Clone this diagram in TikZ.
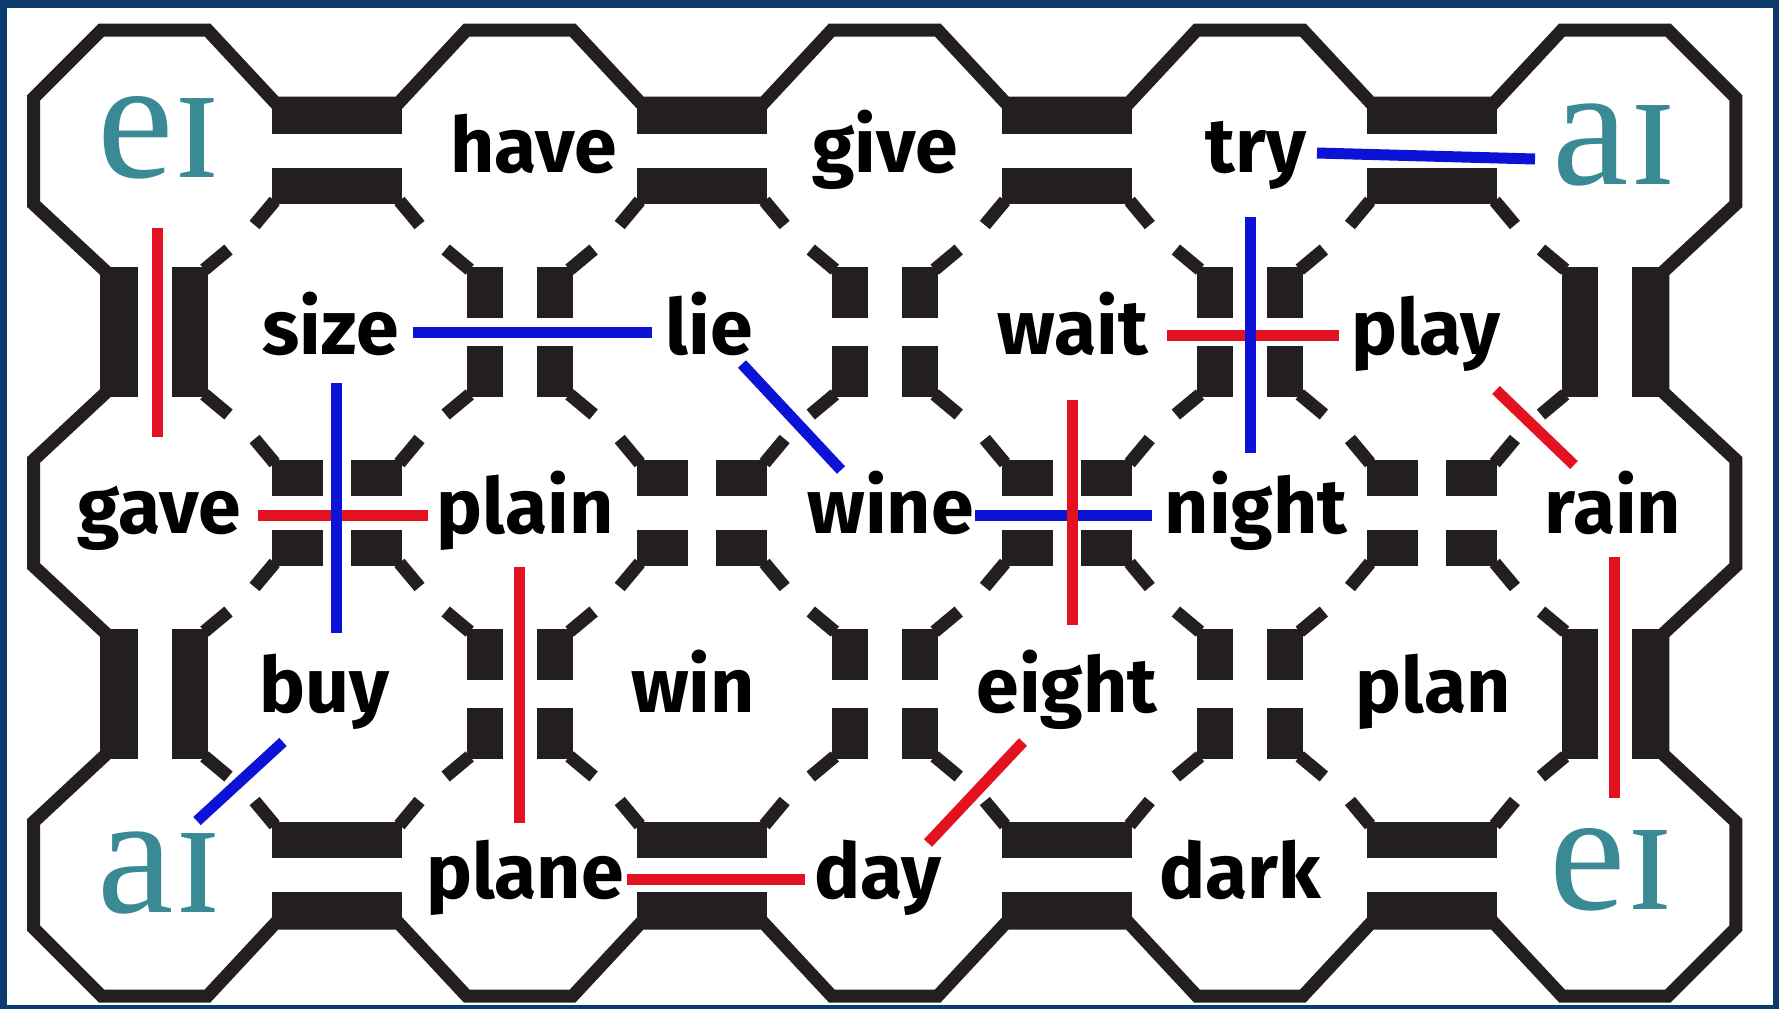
\documentclass[tikz,border=0pt]{standalone}
\usepackage{fontspec}
\newfontfamily\wordfont{Fira Sans}
\newfontfamily\ipafont{Liberation Serif}
\definecolor{mz}{RGB}{35,31,32}
\definecolor{frameblue}{RGB}{12,60,110}
\definecolor{lred}{RGB}{226,18,32}
\definecolor{lblue}{RGB}{12,18,214}
\definecolor{ipateal}{RGB}{58,138,150}
\def\mzG{17}\def\mzS{53}\def\mzL{65}\def\mzGC{14}
\def\stA{17.5}\def\stB{21}
\begin{document}
\begin{tikzpicture}[x=0.5pt,y=-0.5pt,
  wall/.style={draw=mz,line width=6.5pt,line join=miter,line cap=butt},
  stubl/.style={draw=mz,line width=6.5pt,line cap=butt},
  word/.style={font=\wordfont\bfseries\fontsize{38.5}{42}\selectfont,inner sep=0pt,anchor=base,text=black},
  ipa/.style={font=\ipafont\fontsize{86}{88}\selectfont,inner sep=0pt,anchor=base,text=ipateal},
  redl/.style={draw=lred,line width=5.5pt,line cap=butt},
  bluel/.style={draw=lblue,line width=5.5pt,line cap=butt}]
% background and frame
\fill[frameblue] (0,0) rectangle (1779,1009);
\fill[white] (7,8) rectangle (1773,1005);
% outer wall
\draw[wall] (106.5,272) -- (33.5,204) -- (33.5,98) -- (101.5,30) -- (207.5,30) -- (275.5,103)
  -- (398.62,103) -- (466.62,30) -- (572.62,30) -- (640.62,103)
  -- (763.74,103) -- (831.74,30) -- (937.74,30) -- (1005.74,103)
  -- (1128.86,103) -- (1196.86,30) -- (1302.86,30) -- (1370.86,103)
  -- (1493.98,103) -- (1561.98,30) -- (1667.98,30) -- (1735.98,98)
  -- (1735.98,204) -- (1662.98,272) -- (1662.98,392) -- (1735.98,460)
  -- (1735.98,566) -- (1662.98,634) -- (1662.98,754) -- (1735.98,822)
  -- (1735.98,928) -- (1667.98,996) -- (1561.98,996) -- (1493.98,923)
  -- (1370.86,923) -- (1302.86,996) -- (1196.86,996) -- (1128.86,923)
  -- (1005.74,923) -- (937.74,996) -- (831.74,996) -- (763.74,923)
  -- (640.62,923) -- (572.62,996) -- (466.62,996) -- (398.62,923)
  -- (275.5,923) -- (207.5,996) -- (101.5,996) -- (33.5,928)
  -- (33.5,822) -- (106.5,754) -- (106.5,634) -- (33.5,566)
  -- (33.5,460) -- (106.5,392) -- cycle;
% top and bottom doors
\foreach \x in {337.06,702.18,1067.3,1432.42}{
  \foreach \yc/\sy in {151/1,875/-1}{
    \begin{scope}[shift={(\x,\yc)},yscale=\sy]
      \fill[mz] (-\mzL,-\mzS) rectangle (\mzL,-\mzG);
      \fill[mz] (-\mzL,\mzG) rectangle (\mzL,\mzS);
      \foreach \sx in {-1,1}{
        \begin{scope}[xscale=\sx]
          \draw[stubl] ({\mzL-2.6},{\mzS-3.1}) -- ({\mzL+\stA},{\mzS+\stB});
        \end{scope}}
    \end{scope}}}
% left and right doors
\foreach \y in {332,694}{
  \foreach \xc/\sx in {154.5/1,1614.98/-1}{
    \begin{scope}[shift={(\xc,\y)},xscale=\sx]
      \fill[mz] (-\mzS,-\mzL) rectangle (-\mzG,\mzL);
      \fill[mz] (\mzG,-\mzL) rectangle (\mzS,\mzL);
      \foreach \sy in {-1,1}{
        \begin{scope}[yscale=\sy]
          \draw[stubl] ({\mzS-3.1},{\mzL-2.6}) -- ({\mzS+\stB},{\mzL+\stA});
        \end{scope}}
    \end{scope}}}
% horizontal crossings
\foreach \x in {337.06,702.18,1067.3,1432.42}{
  \foreach \sx in {-1,1}{\foreach \sy in {-1,1}{
    \begin{scope}[shift={(\x,513)},xscale=\sx,yscale=\sy]
      \fill[mz] (\mzGC,\mzG) rectangle (\mzL,\mzS);
      \draw[stubl] ({\mzL-2.6},{\mzS-3.1}) -- ({\mzL+\stA},{\mzS+\stB});
    \end{scope}}}}
% vertical crossings
\foreach \x in {519.62,884.74,1249.86}{
  \foreach \y in {332,694}{
  \foreach \sx in {-1,1}{\foreach \sy in {-1,1}{
    \begin{scope}[shift={(\x,\y)},xscale=\sx,yscale=\sy]
      \fill[mz] (\mzG,\mzGC) rectangle (\mzS,\mzL);
      \draw[stubl] ({\mzS-3.1},{\mzL-2.6}) -- ({\mzS+\stB},{\mzL+\stA});
    \end{scope}}}}}
% words
\node[ipa] (eiTL) at (159.5,177) {eɪ};
\node[word] (have) at (533.5,172.5) {have};
\node[word] (give) at (885,172.5) {give};
\node[word] (try) at (1256,172.5) {try};
\node[ipa] (aiTR) at (1615,184) {aɪ};
\node[word] (size) at (330.5,354) {size};
\node[word] (lie) at (709,354) {lie};
\node[word] (wait) at (1073,354) {wait};
\node[word] (play) at (1426,354) {play};
\node[word] (gave) at (159,533) {gave};
\node[word] (plain) at (525,533) {plain};
\node[word] (wine) at (890.5,533) {wine};
\node[word] (night) at (1256,533) {night};
\node[word] (rain) at (1613,533) {rain};
\node[word] (buy) at (324,712.5) {buy};
\node[word] (win) at (693,712.5) {win};
\node[word] (eight) at (1067,712.5) {eight};
\node[word] (plan) at (1433,712.5) {plan};
\node[ipa] (aiBL) at (160,912) {aɪ};
\node[word] (plane) at (525,898.6) {plane};
\node[word] (day) at (878,898.6) {day};
\node[word] (dark) at (1240,898.6) {dark};
\node[ipa] (eiBR) at (1612,909) {eɪ};
% connector end points
\coordinate (c1a) at (157,228);  \coordinate (c1b) at (157,437);
\coordinate (c2a) at (413,332);  \coordinate (c2b) at (652,332);
\coordinate (c3a) at (742,364);  \coordinate (c3b) at (841,470);
\coordinate (c4a) at (258,515);  \coordinate (c4b) at (428,515);
\coordinate (c5a) at (336,383);  \coordinate (c5b) at (336,633);
\coordinate (c6a) at (519,567);  \coordinate (c6b) at (519,823);
\coordinate (c7a) at (283,742);  \coordinate (c7b) at (197,821);
\coordinate (c8a) at (627,879);  \coordinate (c8b) at (805,879);
\coordinate (c9a) at (1023,742); \coordinate (c9b) at (928,843);
\coordinate (c10a) at (975,515); \coordinate (c10b) at (1152,515);
\coordinate (c11a) at (1072,400); \coordinate (c11b) at (1072,625);
\coordinate (c12a) at (1167,335); \coordinate (c12b) at (1339,335);
\coordinate (c13a) at (1250,217); \coordinate (c13b) at (1250,453);
\coordinate (c14a) at (1317,153); \coordinate (c14b) at (1535,159);
\coordinate (c15a) at (1496,390); \coordinate (c15b) at (1574,465);
\coordinate (c16a) at (1614,557); \coordinate (c16b) at (1614,798);
% connectors
\draw[redl] (c1a) -- (c1b);
\draw[bluel] (c2a) -- (c2b);
\draw[bluel] (c3a) -- (c3b);
\draw[redl] (c4a) -- (c4b);
\draw[bluel] (c5a) -- (c5b);
\draw[redl] (c6a) -- (c6b);
\draw[bluel] (c7a) -- (c7b);
\draw[redl] (c8a) -- (c8b);
\draw[redl] (c9a) -- (c9b);
\draw[bluel] (c10a) -- (c10b);
\draw[redl] (c11a) -- (c11b);
\draw[redl] (c12a) -- (c12b);
\draw[bluel] (c13a) -- (c13b);
\draw[bluel] (c14a) -- (c14b);
\draw[redl] (c15a) -- (c15b);
\draw[redl] (c16a) -- (c16b);
\end{tikzpicture}
\end{document}
